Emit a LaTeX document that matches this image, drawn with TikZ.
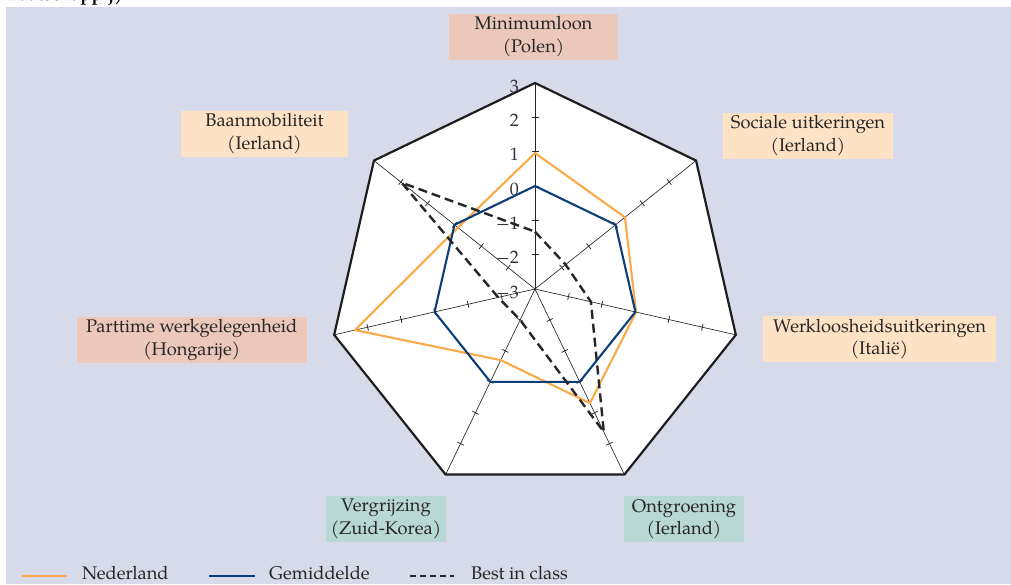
\documentclass[tikz,border=0pt]{standalone}
\usepackage{fontspec}
\setmainfont{TeX Gyre Pagella}
\definecolor{bgpanel}{RGB}{215,219,233}
\definecolor{boxpink}{RGB}{235,200,185}
\definecolor{boxpeach}{RGB}{254,226,197}
\definecolor{boxteal}{RGB}{184,216,212}
\definecolor{nedcol}{RGB}{250,170,72}
\definecolor{gemcol}{RGB}{14,62,121}
\definecolor{framecol}{RGB}{30,30,30}
\newcommand\lblfont{\fontsize{18.3}{22.5}\selectfont}
\newcommand\numfont{\fontsize{18}{20}\selectfont}
\tikzset{
  lbl/.style={rectangle, inner sep=0pt, minimum height=46pt, align=center, font=\lblfont, text=black!85},
  numlbl/.style={inner sep=0pt, font=\numfont, text=black!80, anchor=east},
  legtxt/.style={inner sep=0pt, font=\lblfont, text=black!85, anchor=base west},
  frame/.style={draw=framecol, line width=2.2pt, line join=miter},
  axisline/.style={draw=black!85, line width=0.65pt},
  tickmark/.style={draw=black!85, line width=0.75pt},
  nedline/.style={draw=nedcol, line width=2.1pt, line join=round},
  gemline/.style={draw=gemcol, line width=2.1pt, line join=round},
  bestline/.style={draw=black!85, line width=2.4pt, dash pattern=on 9pt off 5pt},
}
\begin{document}
\begin{tikzpicture}[x=1pt, y=-1pt]
\useasboundingbox (0,0) rectangle (1011,584);
% panel
\fill[bgpanel] (6,7) rectangle (1011,584);
% heading line, mostly outside the panel
\begin{scope}
  \clip (0,0) rectangle (1011,7);
  \node[anchor=base west, inner sep=0pt, font=\bfseries\lblfont] (ttl) at (1,0.5) {Maatschappij)};
\end{scope}

% radar chart
\begin{scope}[shift={(535,289)}, y=1pt]
  \coordinate (O) at (0,0);
  \foreach \k in {0,...,6}
    \coordinate (v\k) at ({90-\k*360/7}:206);
  \fill[white] (v0) -- (v1) -- (v2) -- (v3) -- (v4) -- (v5) -- (v6) -- cycle;
  \foreach \k in {0,...,6}
    \draw[axisline] (O) -- (v\k);
  \foreach \k in {0,...,6}
    \foreach \j in {1,...,5}
      \draw[tickmark, rotate={90-\k*360/7}] ({\j*206/6},-3.5) -- ({\j*206/6},3.5);
  \draw[frame] (v0) -- (v1) -- (v2) -- (v3) -- (v4) -- (v5) -- (v6) -- cycle;
  % scale labels
  \foreach \v/\s [count=\i] in {3/3,2/2,1/1,0/0,-1/−1,-2/−2,-3/−3}
    \node[numlbl] (sc\i) at (-16,{(\v+3)*206/6-3}) {\s};
  % series
  \foreach \v [count=\i from 0] in {0.96,0.35,0.02,0.69,-0.70,2.38,-0.13}
    \coordinate (n\i) at ({90-\i*360/7}:{(\v+3)*206/6});
  \foreach \i in {0,...,6}
    \coordinate (g\i) at ({90-\i*360/7}:103);
  \foreach \v [count=\i from 0] in {-1.33,-1.86,-1.33,1.62,-2.0,-1.9,1.97}
    \coordinate (b\i) at ({90-\i*360/7}:{(\v+3)*206/6});
  \draw[nedline] (n0) -- (n1) -- (n2) -- (n3) -- (n4) -- (n5) -- (n6) -- cycle;
  \draw[gemline] (g0) -- (g1) -- (g2) -- (g3) -- (g4) -- (g5) -- (g6) -- cycle;
  \draw[bestline] (b0) -- (b1) -- (b2) -- (b3) -- (b4) -- (b5) -- (b6) -- cycle;
\end{scope}

% category labels
\node[lbl, fill=boxpink, minimum width=169pt] (minl) at (533.5,36.5) {Minimumloon\\(Polen)};
\node[lbl, fill=boxpeach, minimum width=170pt] (socu) at (808,135.5) {Sociale uitkeringen\\(Ierland)};
\node[lbl, fill=boxpeach, minimum width=233pt] (werk) at (879.5,339) {Werkloosheidsuitkeringen\\(Italië)};
\node[lbl, fill=boxteal, minimum width=120pt] (ontg) at (684,519) {Ontgroening\\(Ierland)};
\node[lbl, fill=boxteal, minimum width=120pt] (verg) at (386,519) {Vergrijzing\\(Zuid-Korea)};
\node[lbl, fill=boxpink, minimum width=230pt] (part) at (191.7,339.7) {Parttime werkgelegenheid\\(Hongarije)};
\node[lbl, fill=boxpeach, minimum width=167pt] (baan) at (264.5,133.5) {Baanmobiliteit\\(Ierland)};

% legend
\coordinate (la1) at (22,576);  \coordinate (la2) at (67,576);
\coordinate (lb1) at (209,576); \coordinate (lb2) at (255,576);
\coordinate (lc1) at (410,576); \coordinate (lc2) at (454,576);
\draw[nedline] (la1) -- (la2);
\draw[gemline] (lb1) -- (lb2);
\draw[draw=black!85, line width=2pt, dash pattern=on 6pt off 4pt] (lc1) -- (lc2);
\node[legtxt] (ln) at (82,579) {Nederland};
\node[legtxt] (lg) at (269,579) {Gemiddelde};
\node[legtxt] (lc) at (471,579) {Best in class};
\end{tikzpicture}
\end{document}
